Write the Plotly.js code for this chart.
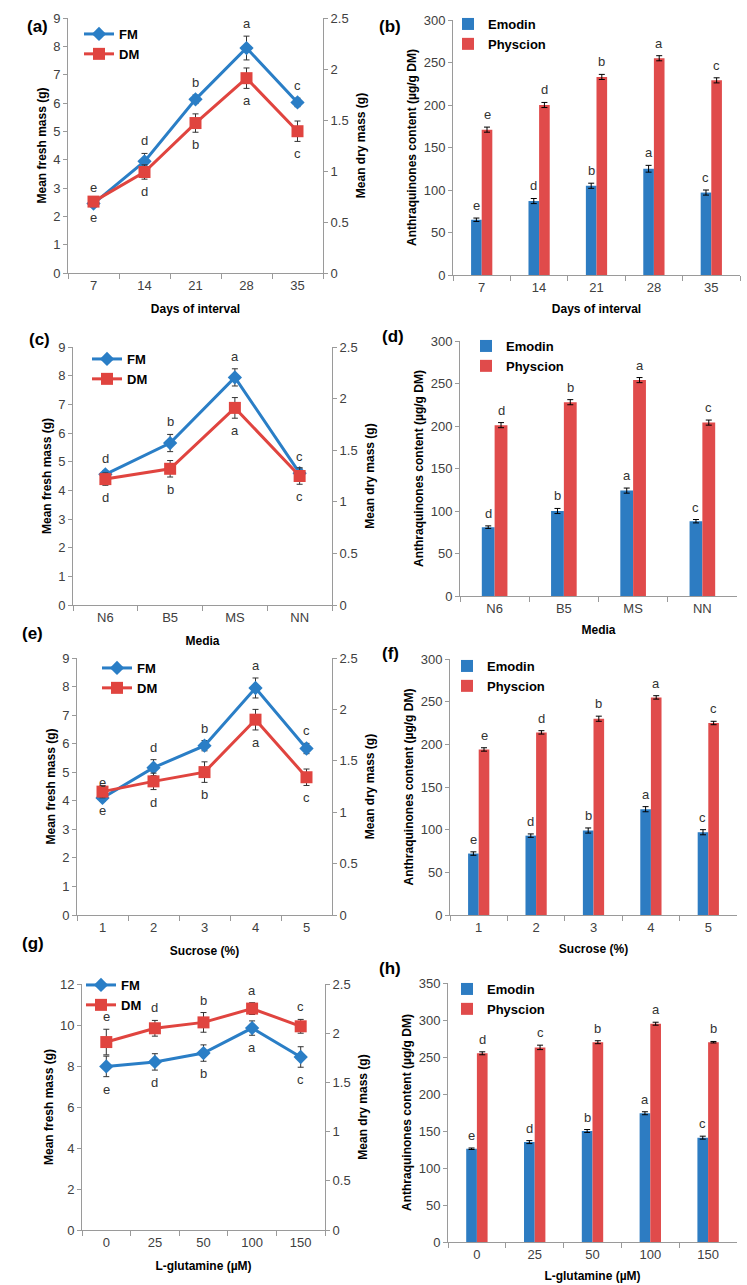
<!DOCTYPE html>
<html>
<head>
<meta charset="utf-8">
<script src="https://cdn.plot.ly/plotly-3.0.1.min.js"></script>
<style>
  html, body { margin: 0; padding: 0; background: #fff; }
  #chart { width: 747px; height: 1285px; }
</style>
</head>
<body>
<div id="chart"></div>
<script>
// categories
var daysCats = ['7', '14', '21', '28', '35'];
var mediaCats = ['N6', 'B5', 'MS', 'NN'];
var sucroseCats = ['1', '2', '3', '4', '5'];
var glutCats = ['0', '25', '50', '100', '150'];

// (a) days of interval - biomass
var daysFM = [2.45, 3.94, 6.13, 7.94, 6.02];
var daysFMErr = [0.12, 0.28, 0.15, 0.42, 0.15];
var daysDM = [0.70, 0.99, 1.47, 1.91, 1.39];
var daysDMErr = [0.03, 0.07, 0.09, 0.1, 0.1];
var daysFMLetters = ['e', 'd', 'b', 'a', 'c'];
var daysDMLetters = ['e', 'd', 'b', 'a', 'c'];

// (b) days of interval - anthraquinones
var daysEmodin = [65, 87, 105, 125, 97];
var daysEmodinErr = [2, 3, 3, 4, 3];
var daysPhyscion = [171, 200, 233, 255, 229];
var daysPhyscionErr = [3, 3, 3, 3, 3];
var daysEmodinLetters = ['e', 'd', 'b', 'a', 'c'];
var daysPhyscionLetters = ['e', 'd', 'b', 'a', 'c'];

// (c) media - biomass
var mediaFM = [4.56, 5.65, 7.94, 4.6];
var mediaFMErr = [0.12, 0.3, 0.3, 0.15];
var mediaDM = [1.22, 1.32, 1.91, 1.25];
var mediaDMErr = [0.06, 0.08, 0.1, 0.08];
var mediaFMLetters = ['d', 'b', 'a', 'c'];
var mediaDMLetters = ['d', 'b', 'a', 'c'];

// (d) media - anthraquinones
var mediaEmodin = [81, 100, 124, 88];
var mediaEmodinErr = [1.5, 3, 3, 2];
var mediaPhyscion = [201, 228, 254, 204];
var mediaPhyscionErr = [3, 3, 3, 3];
var mediaEmodinLetters = ['d', 'b', 'a', 'c'];
var mediaPhyscionLetters = ['d', 'b', 'a', 'c'];

// (e) sucrose - biomass
var sucroseFM = [4.1, 5.16, 5.93, 7.95, 5.83];
var sucroseFMErr = [0.12, 0.28, 0.18, 0.35, 0.18];
var sucroseDM = [1.2, 1.3, 1.39, 1.9, 1.34];
var sucroseDMErr = [0.06, 0.08, 0.1, 0.1, 0.08];
var sucroseFMLetters = ['e', 'd', 'b', 'a', 'c'];
var sucroseDMLetters = ['e', 'd', 'b', 'a', 'c'];

// (f) sucrose - anthraquinones
var sucroseEmodin = [72, 93, 99, 124, 97];
var sucroseEmodinErr = [2, 2, 3, 3, 3];
var sucrosePhyscion = [194, 214, 230, 255, 225];
var sucrosePhyscionErr = [2, 2, 3, 2, 2];
var sucroseEmodinLetters = ['e', 'd', 'b', 'a', 'c'];
var sucrosePhyscionLetters = ['e', 'd', 'b', 'a', 'c'];

// (g) L-glutamine - biomass
var glutFM = [7.98, 8.2, 8.63, 9.85, 8.44];
var glutFMErr = [0.5, 0.4, 0.4, 0.35, 0.5];
var glutDM = [1.91, 2.05, 2.11, 2.25, 2.07];
var glutDMErr = [0.13, 0.08, 0.1, 0.06, 0.07];
var glutFMLetters = ['e', 'd', 'b', 'a', 'c'];
var glutDMLetters = ['e', 'd', 'b', 'a', 'c'];

// (h) L-glutamine - anthraquinones
var glutEmodin = [126, 135, 150, 174, 141];
var glutEmodinErr = [1, 2, 2, 2, 2];
var glutPhyscion = [255, 263, 270, 295, 270];
var glutPhyscionErr = [2, 3, 2, 2, 1];
var glutEmodinLetters = ['e', 'd', 'b', 'a', 'c'];
var glutPhyscionLetters = ['d', 'c', 'b', 'a', 'b'];

var W = 747, H = 1285;
var FONT = 'Liberation Sans, Arial, sans-serif';
var FM_COLOR = '#2a7ec6';
var DM_COLOR = '#e0443f';
var EMODIN_COLOR = '#2d7cc2';
var PHYSCION_COLOR = '#e04b4b';
var BARGAP = 0.63;

var traces = [];
var annotations = [];
var layout = {
  width: W,
  height: H,
  margin: { l: 0, r: 0, t: 0, b: 0 },
  paper_bgcolor: '#ffffff',
  plot_bgcolor: '#ffffff',
  barmode: 'group',
  bargap: BARGAP,
  bargroupgap: 0,
  font: { family: FONT, size: 13, color: '#404040' },
};

function px(x) { return x / W; }
function py(y) { return 1 - y / H; }
function axId(letter, i) { return i == 1 ? letter : letter + i; }
function axKey(letter, i) { return letter + 'axis' + (i == 1 ? '' : i); }

function axisBase() {
  return {
    showline: true,
    linecolor: '#9a9a9a',
    linewidth: 1,
    ticks: 'outside',
    ticklen: 4,
    tickcolor: '#9a9a9a',
    showgrid: false,
    zeroline: false,
    fixedrange: true,
    tickfont: { family: FONT, size: 13, color: '#404040' },
  };
}

function titleFont() {
  return { family: FONT, size: 12, color: '#000', weight: 'bold' };
}

function addXAxis(p, standoff) {
  var ax = axisBase();
  ax.type = 'category';
  ax.domain = [px(p.box[0]), px(p.box[1])];
  ax.anchor = axId('y', p.yi);
  ax.range = [-0.5, p.cats.length - 0.5];
  ax.tickson = 'boundaries';
  ax.ticklen = 5;
  ax.title = { text: p.xTitle, font: titleFont(), standoff: standoff };
  layout[axKey('x', p.xi)] = ax;
}

function addLegend(p) {
  layout[p.legend] = {
    x: px(p.legendPos[0]),
    y: py(p.legendPos[1]),
    xanchor: 'left',
    yanchor: 'top',
    bgcolor: 'rgba(0,0,0,0)',
    tracegroupgap: 0,
    itemwidth: 30,
    font: { family: FONT, size: 13, color: '#000', weight: 'bold' },
  };
}

function addLabel(p) {
  annotations.push({
    xref: 'paper', yref: 'paper',
    x: px(p.labelPos[0]), y: py(p.labelPos[1]),
    text: p.label, showarrow: false,
    font: { family: FONT, size: 17, color: '#000', weight: 'bold' },
  });
}

function letters(xs, ys, errs, texts, xref, yref, above) {
  for (var i = 0; i < texts.length; i++) {
    annotations.push({
      xref: xref, yref: yref,
      x: xs[i],
      y: above ? ys[i] + errs[i] : ys[i] - errs[i],
      yanchor: above ? 'bottom' : 'top',
      yshift: above ? 3 : -3,
      text: texts[i], showarrow: false,
      font: { family: FONT, size: 13, color: '#333' },
    });
  }
}

function linePanel(p) {
  var xid = axId('x', p.xi), ylid = axId('y', p.yi), yrid = axId('y', p.yi + 1);
  addXAxis(p, 13);

  var yl = axisBase();
  yl.domain = [py(p.box[3]), py(p.box[2])];
  yl.anchor = xid;
  yl.range = [0, p.fmMax];
  yl.dtick = p.fmStep;
  yl.title = { text: 'Mean fresh mass (g)', font: titleFont(), standoff: 3 };
  layout[axKey('y', p.yi)] = yl;

  var yr = axisBase();
  yr.overlaying = ylid;
  yr.side = 'right';
  yr.anchor = xid;
  yr.range = [0, 2.5];
  yr.dtick = 0.5;
  yr.title = { text: 'Mean dry mass (g)', font: titleFont(), standoff: 8 };
  layout[axKey('y', p.yi + 1)] = yr;

  traces.push({
    name: 'FM', type: 'scatter', mode: 'lines+markers',
    x: p.cats, y: p.fm, xaxis: xid, yaxis: ylid, legend: p.legend,
    line: { color: FM_COLOR, width: 3 },
    marker: { symbol: 'diamond', size: 11, color: FM_COLOR },
    error_y: { type: 'data', array: p.fmErr, color: '#333', thickness: 1, width: 3 },
    hoverinfo: 'skip',
  });
  traces.push({
    name: 'DM', type: 'scatter', mode: 'lines+markers',
    x: p.cats, y: p.dm, xaxis: xid, yaxis: yrid, legend: p.legend,
    line: { color: DM_COLOR, width: 3 },
    marker: { symbol: 'square', size: 12, color: DM_COLOR },
    error_y: { type: 'data', array: p.dmErr, color: '#333', thickness: 1, width: 3 },
    hoverinfo: 'skip',
  });

  var idx = p.cats.map(function (c, i) { return i; });
  letters(idx, p.fm, p.fmErr, p.fmLetters, xid, ylid, p.fmAbove);
  letters(idx, p.dm, p.dmErr, p.dmLetters, xid, yrid, !p.fmAbove);

  addLegend(p);
  addLabel(p);
}

function barPanel(p) {
  var xid = axId('x', p.xi), yid = axId('y', p.yi);
  addXAxis(p, 11);

  var y = axisBase();
  y.domain = [py(p.box[3]), py(p.box[2])];
  y.anchor = xid;
  y.range = [0, p.yMax];
  y.dtick = 50;
  y.title = { text: 'Anthraquinones content (µg/g DM)', font: titleFont(), standoff: 4 };
  layout[axKey('y', p.yi)] = y;

  traces.push({
    name: 'Emodin', type: 'bar', x: p.cats, y: p.emodin,
    xaxis: xid, yaxis: yid, legend: p.legend,
    marker: { color: EMODIN_COLOR },
    error_y: { type: 'data', array: p.emodinErr, color: '#000', thickness: 1, width: 3 },
    hoverinfo: 'skip',
  });
  traces.push({
    name: 'Physcion', type: 'bar', x: p.cats, y: p.physcion,
    xaxis: xid, yaxis: yid, legend: p.legend,
    marker: { color: PHYSCION_COLOR },
    error_y: { type: 'data', array: p.physcionErr, color: '#000', thickness: 1, width: 3 },
    hoverinfo: 'skip',
  });

  // each bar is a quarter of the group width away from the category centre
  var off = (1 - BARGAP) / 4;
  var xe = p.cats.map(function (c, i) { return i - off; });
  var xp = p.cats.map(function (c, i) { return i + off; });
  letters(xe, p.emodin, p.emodinErr, p.emodinLetters, xid, yid, true);
  letters(xp, p.physcion, p.physcionErr, p.physcionLetters, xid, yid, true);

  addLegend(p);
  addLabel(p);
}

linePanel({
  label: '(a)', labelPos: [25, 15], xi: 1, yi: 1, legend: 'legend',
  box: [68, 323, 18, 273], legendPos: [79, 19],
  cats: daysCats, xTitle: 'Days of interval', fmMax: 9, fmStep: 1, fmAbove: true,
  fm: daysFM, fmErr: daysFMErr, dm: daysDM, dmErr: daysDMErr,
  fmLetters: daysFMLetters, dmLetters: daysDMLetters,
});
barPanel({
  label: '(b)', labelPos: [390, 15], xi: 2, yi: 3, legend: 'legend2',
  box: [453, 740, 20, 275], legendPos: [448, 9],
  cats: daysCats, xTitle: 'Days of interval', yMax: 300,
  emodin: daysEmodin, emodinErr: daysEmodinErr,
  physcion: daysPhyscion, physcionErr: daysPhyscionErr,
  emodinLetters: daysEmodinLetters, physcionLetters: daysPhyscionLetters,
});
linePanel({
  label: '(c)', labelPos: [27, 328], xi: 3, yi: 4, legend: 'legend3',
  box: [73, 332, 347, 605], legendPos: [87, 344],
  cats: mediaCats, xTitle: 'Media', fmMax: 9, fmStep: 1, fmAbove: true,
  fm: mediaFM, fmErr: mediaFMErr, dm: mediaDM, dmErr: mediaDMErr,
  fmLetters: mediaFMLetters, dmLetters: mediaDMLetters,
});
barPanel({
  label: '(d)', labelPos: [393, 325], xi: 4, yi: 6, legend: 'legend4',
  box: [460, 737, 341, 596], legendPos: [466, 331],
  cats: mediaCats, xTitle: 'Media', yMax: 300,
  emodin: mediaEmodin, emodinErr: mediaEmodinErr,
  physcion: mediaPhyscion, physcionErr: mediaPhyscionErr,
  emodinLetters: mediaEmodinLetters, physcionLetters: mediaPhyscionLetters,
});
linePanel({
  label: '(e)', labelPos: [20, 633], xi: 5, yi: 7, legend: 'legend5',
  box: [77, 332, 658, 915], legendPos: [97, 653],
  cats: sucroseCats, xTitle: 'Sucrose (%)', fmMax: 9, fmStep: 1, fmAbove: true,
  fm: sucroseFM, fmErr: sucroseFMErr, dm: sucroseDM, dmErr: sucroseDMErr,
  fmLetters: sucroseFMLetters, dmLetters: sucroseDMLetters,
});
barPanel({
  label: '(f)', labelPos: [390, 653], xi: 6, yi: 9, legend: 'legend6',
  box: [450, 737, 659, 915], legendPos: [447, 651],
  cats: sucroseCats, xTitle: 'Sucrose (%)', yMax: 300,
  emodin: sucroseEmodin, emodinErr: sucroseEmodinErr,
  physcion: sucrosePhyscion, physcionErr: sucrosePhyscionErr,
  emodinLetters: sucroseEmodinLetters, physcionLetters: sucrosePhyscionLetters,
});
linePanel({
  label: '(g)', labelPos: [20, 955], xi: 7, yi: 10, legend: 'legend7',
  box: [82, 325, 984, 1230], legendPos: [81, 970],
  cats: glutCats, xTitle: 'L-glutamine (µM)', fmMax: 12, fmStep: 2, fmAbove: false,
  fm: glutFM, fmErr: glutFMErr, dm: glutDM, dmErr: glutDMErr,
  fmLetters: glutFMLetters, dmLetters: glutDMLetters,
});
barPanel({
  label: '(h)', labelPos: [390, 980], xi: 8, yi: 12, legend: 'legend8',
  box: [448, 737, 983, 1242], legendPos: [447, 974],
  cats: glutCats, xTitle: 'L-glutamine (µM)', yMax: 350,
  emodin: glutEmodin, emodinErr: glutEmodinErr,
  physcion: glutPhyscion, physcionErr: glutPhyscionErr,
  emodinLetters: glutEmodinLetters, physcionLetters: glutPhyscionLetters,
});

layout.annotations = annotations;

Plotly.newPlot('chart', traces, layout, { displayModeBar: false, staticPlot: true });
</script>
</body>
</html>
